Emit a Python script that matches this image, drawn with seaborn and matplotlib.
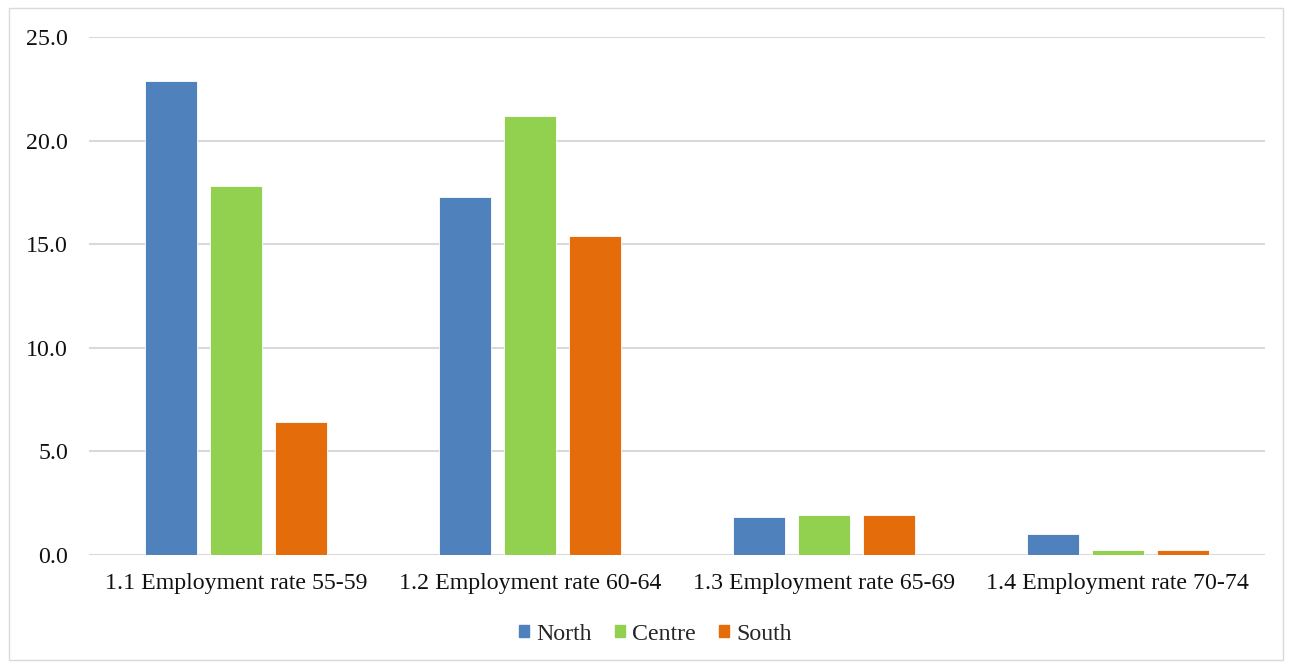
import matplotlib
matplotlib.use("Agg")
import matplotlib.pyplot as plt
import seaborn as sns
import pandas as pd
from matplotlib.patches import Rectangle

categories = ["1.1 Employment rate 55-59", "1.2 Employment rate 60-64",
              "1.3 Employment rate 65-69", "1.4 Employment rate 70-74"]
regions = ["North", "Centre", "South"]
north = [22.9, 17.3, 1.8, 1.0]
centre = [17.8, 21.2, 1.9, 0.2]
south = [6.4, 15.4, 1.9, 0.2]
yticks = [0.0, 5.0, 10.0, 15.0, 20.0, 25.0]

colors = {"North": "#4F81BD", "Centre": "#92D050", "South": "#E46C0A"}

df = pd.DataFrame({
    "category": categories * 3,
    "region": ["North"] * 4 + ["Centre"] * 4 + ["South"] * 4,
    "value": north + centre + south,
})

sns.set_style("white")
plt.rcParams["font.family"] = ["Liberation Serif", "DejaVu Serif"]

fig = plt.figure(figsize=(12.93, 6.63), dpi=100)
ax = fig.add_axes([0.0688, 0.1636, 0.9092, 0.7801])

sns.barplot(data=df, x="category", y="value", hue="region", hue_order=regions,
            palette=colors, width=0.663, gap=0.2, ax=ax, legend=False,
            edgecolor="white", linewidth=0.6, saturation=1)

ax.set_ylim(0, 25)
ax.set_xlim(-0.5, 3.5)
ax.set_yticks(yticks)
ax.set_yticklabels([f"{t:.1f}" for t in yticks])
ax.yaxis.grid(True, color="#D9D9D9", linewidth=1.5)
ax.set_axisbelow(True)
for s in ax.spines.values():
    s.set_visible(False)
ax.tick_params(axis="both", length=0, labelsize=17.2, colors="#111111")
ax.tick_params(axis="y", pad=15)
ax.tick_params(axis="x", pad=13)
ax.set_xlabel("")
ax.set_ylabel("")

handles = [Rectangle((0, 0), 1, 1, color=colors[r]) for r in regions]
fig.legend(handles, regions, loc="center", bbox_to_anchor=(0.507, 1 - 634 / 663),
           ncol=3, frameon=False, fontsize=17.2, handlelength=0.42, handleheight=0.42,
           handletextpad=0.3, columnspacing=0.97)

fig.patches.append(Rectangle((9 / 1293, 3 / 663), 1274 / 1293, 652 / 663,
                             transform=fig.transFigure, fill=False,
                             edgecolor="#D9D9D9", linewidth=1.0))

fig.savefig("out.png", dpi=100, facecolor="white")
